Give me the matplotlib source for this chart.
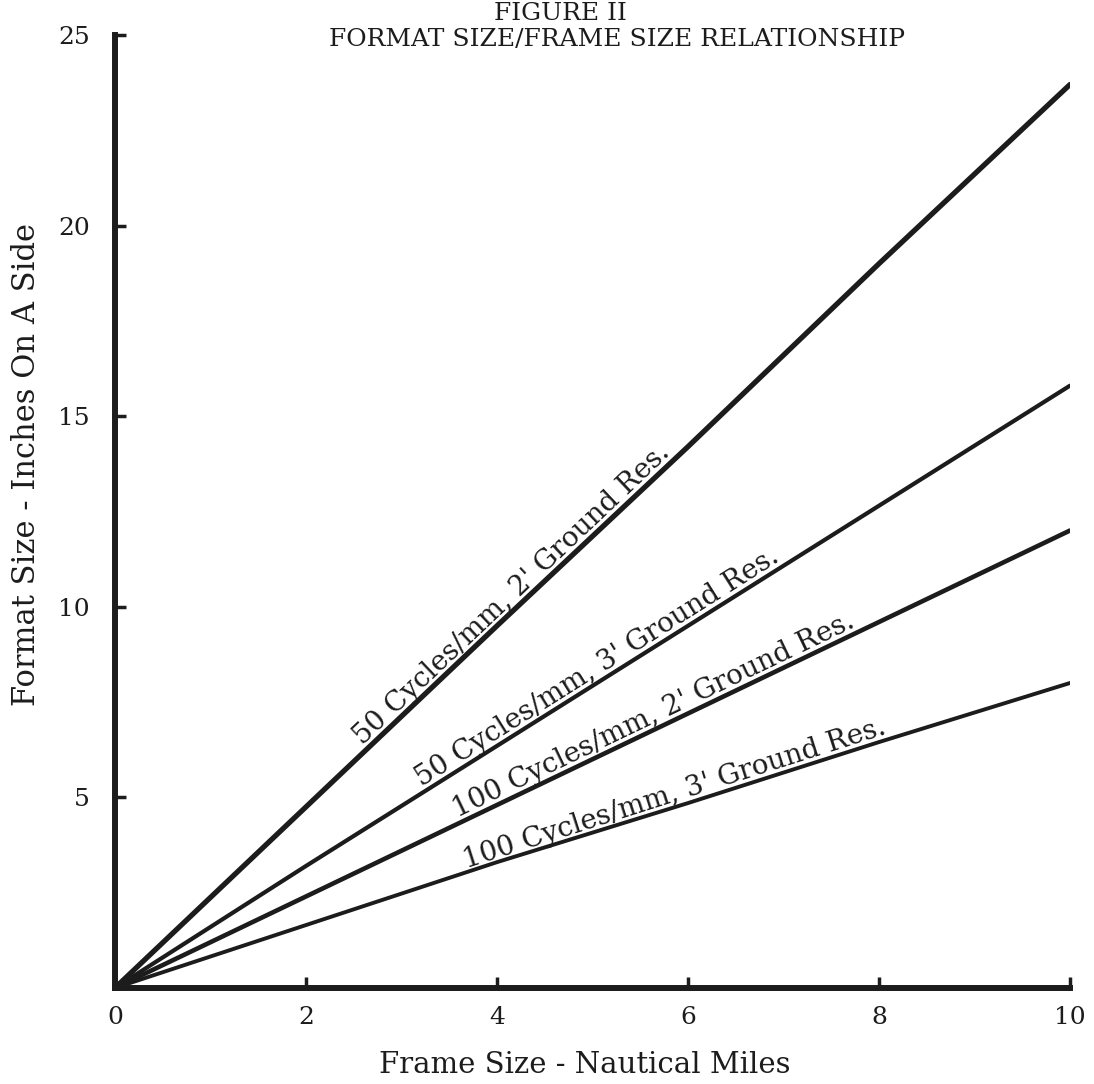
import numpy as np
import matplotlib.pyplot as plt

# values
frame_nm = [0, 2, 4, 6, 8, 10]
fmt_50_2 = [0, 4.75, 9.5, 14.2, 19.0, 23.7]
fmt_50_3 = [0, 3.2, 6.35, 9.5, 12.65, 15.8]
fmt_100_2 = [0, 2.4, 4.8, 7.2, 9.6, 12.0]
fmt_100_3 = [0, 1.65, 3.3, 4.85, 6.45, 8.0]

series = [fmt_50_2, fmt_50_3, fmt_100_2, fmt_100_3]
labels = ["50 Cycles/mm, 2' Ground Res.",
          "50 Cycles/mm, 3' Ground Res.",
          "100 Cycles/mm, 2' Ground Res.",
          "100 Cycles/mm, 3' Ground Res."]
label_x = [4.25, 5.12, 5.7, 5.9]
widths = [3.8, 3.0, 3.3, 2.8]

plt.rcParams['font.family'] = ['DejaVu Serif']
ink = '#1c1c1c'

fig = plt.figure(figsize=(10.94, 10.84), dpi=100)
ax = fig.add_axes([0.1051, 0.0886, 0.8729, 0.8791])

for ys, lw in zip(series, widths):
    ax.plot(frame_nm, ys, color=ink, lw=lw, solid_capstyle='round')

ax.set_xlim(0, 10)
ax.set_ylim(0, 25)
ax.set_xticks([0, 2, 4, 6, 8, 10])
ax.set_yticks([5, 10, 15, 20, 25])

# labels written along each line, baseline just above the stroke
fig.canvas.draw()
for ys, txt, lx in zip(series, labels, label_x):
    ly = np.interp(lx, frame_nm, ys)
    p0 = ax.transData.transform((frame_nm[0], ys[0]))
    p1 = ax.transData.transform((frame_nm[-1], ys[-1]))
    a = np.arctan2(p1[1] - p0[1], p1[0] - p0[0])
    off = 4.0
    ax.annotate(txt, xy=(lx, ly), xytext=(-np.sin(a) * off, np.cos(a) * off),
                textcoords='offset points', rotation=np.degrees(a),
                rotation_mode='anchor', ha='center', va='baseline',
                fontsize=20, color=ink)

for s in ['top', 'right']:
    ax.spines[s].set_visible(False)
for s in ['left', 'bottom']:
    ax.spines[s].set_linewidth(4.3)
    ax.spines[s].set_color(ink)

ax.tick_params(direction='in', length=8, width=2.5, color=ink,
               labelsize=18, labelcolor=ink)
ax.tick_params(axis='x', pad=13)
ax.tick_params(axis='y', pad=18)

ax.set_xlabel('Frame Size - Nautical Miles', fontsize=21, color=ink)
ax.xaxis.set_label_coords(0.492, -0.066)
ax.set_ylabel('Format Size - Inches On A Side', fontsize=22, color=ink)
ax.yaxis.set_label_coords(-0.076, 0.549)

fig.text(560 / 1094, 1 - 13 / 1084, 'FIGURE II', ha='center', va='center',
         fontsize=18, color=ink)
fig.text(617 / 1094, 1 - 39 / 1084, 'FORMAT SIZE/FRAME SIZE RELATIONSHIP',
         ha='center', va='center', fontsize=18, color=ink)

fig.savefig('out.png', dpi=100)
